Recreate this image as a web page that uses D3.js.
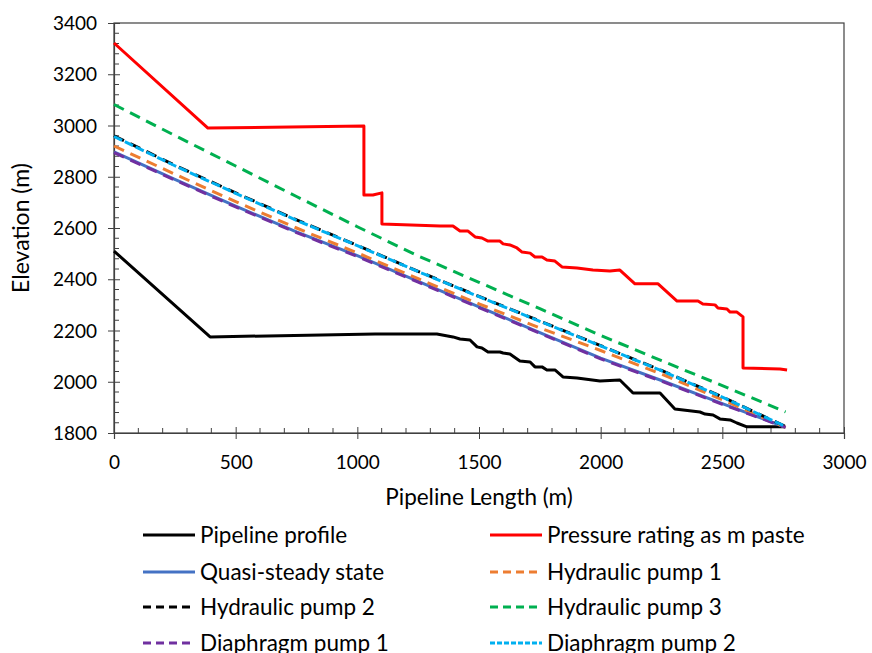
<!DOCTYPE html>
<html>
<head>
<meta charset="utf-8">
<script src="https://cdn.jsdelivr.net/npm/d3@7"></script>
<style>
  body { margin: 0; background: #fff; }
  svg { display: block; font-family: Lato, "Open Sans", sans-serif; }
</style>
</head>
<body>
<svg id="chart" width="872" height="653"></svg>
<script>
// pipeline profile (ground elevation)
const profileX = [0, 395, 1073, 1327, 1393, 1422, 1463, 1492, 1512, 1537, 1586, 1599, 1627, 1668, 1710, 1730, 1759, 1779, 1812, 1845, 1903, 1997, 2079, 2133, 2244, 2305, 2408, 2429, 2462, 2490, 2532, 2560, 2601, 2758];
const profileY = [2510, 2175, 2186, 2186, 2175, 2167, 2163, 2136, 2132, 2116, 2116, 2112, 2108, 2081, 2077, 2058, 2058, 2046, 2046, 2019, 2015, 2003, 2007, 1956, 1956, 1894, 1882, 1874, 1870, 1855, 1851, 1839, 1824, 1824];

// pressure rating expressed as metres of paste
const ratingX = [0, 386, 1027, 1027, 1064, 1101, 1101, 1340, 1393, 1422, 1455, 1484, 1512, 1537, 1586, 1599, 1627, 1656, 1677, 1710, 1730, 1759, 1779, 1812, 1841, 1903, 1968, 2038, 2079, 2141, 2236, 2314, 2400, 2420, 2470, 2482, 2519, 2532, 2560, 2585, 2585, 2737, 2766];
const ratingY = [3322, 2990, 2998, 2729, 2729, 2737, 2616, 2608, 2608, 2588, 2588, 2565, 2561, 2549, 2549, 2538, 2534, 2522, 2506, 2502, 2487, 2487, 2475, 2471, 2448, 2444, 2436, 2432, 2436, 2382, 2382, 2315, 2315, 2303, 2300, 2288, 2284, 2272, 2272, 2253, 2054, 2050, 2046];

// hydraulic grade lines, shared x positions
const pumpX = [0, 250, 500, 750, 1000, 1250, 1500, 1750, 2000, 2250, 2500, 2760];
const quasiSteady = [2897, 2790, 2685, 2585, 2492, 2392, 2292, 2192, 2092, 2005, 1915, 1822];
const hydraulic1 = [2920, 2810, 2703, 2600, 2503, 2402, 2304, 2210, 2122, 2030, 1930, 1822];
const hydraulic2 = [2960, 2845, 2737, 2632, 2532, 2431, 2333, 2237, 2141, 2044, 1941, 1825];
const hydraulic3 = [3082, 2961, 2842, 2723, 2605, 2491, 2388, 2285, 2181, 2082, 1985, 1882];
const diaphragm1 = [2894, 2787, 2682, 2582, 2489, 2389, 2289, 2189, 2089, 2002, 1912, 1822];
const diaphragm2 = [2957, 2843, 2735, 2630, 2531, 2430, 2332, 2236, 2140, 2043, 1940, 1825];

const xTicks = [0, 500, 1000, 1500, 2000, 2500, 3000];
const yTicks = [1800, 2000, 2200, 2400, 2600, 2800, 3000, 3200, 3400];

const zip = (xs, ys) => xs.map((x, i) => [x, ys[i]]);

const series = [
  { name: 'Pipeline profile', pts: zip(profileX, profileY), color: '#000000', dash: null },
  { name: 'Pressure rating as m paste', pts: zip(ratingX, ratingY), color: '#FF0000', dash: null },
  { name: 'Quasi-steady state', pts: zip(pumpX, quasiSteady), color: '#4472C4', dash: null },
  { name: 'Hydraulic pump 1', pts: zip(pumpX, hydraulic1), color: '#ED7D31', dash: '11,7' },
  { name: 'Hydraulic pump 2', pts: zip(pumpX, hydraulic2), color: '#000000', dash: '11,7' },
  { name: 'Hydraulic pump 3', pts: zip(pumpX, hydraulic3), color: '#00B050', dash: '11,7' },
  { name: 'Diaphragm pump 1', pts: zip(pumpX, diaphragm1), color: '#7030A0', dash: '11,7' },
  { name: 'Diaphragm pump 2', pts: zip(pumpX, diaphragm2), color: '#00B0F0', dash: '9,3' }
];

const svg = d3.select('#chart');
const plot = { left: 114, right: 844, top: 23, bottom: 433 };

const x = d3.scaleLinear().domain([0, 3000]).range([plot.left, plot.right]);
const y = d3.scaleLinear().domain([1800, 3400]).range([plot.bottom, plot.top]);

const axisColor = '#404040';

// plot area border
svg.append('rect')
  .attr('x', plot.left).attr('y', plot.top)
  .attr('width', plot.right - plot.left).attr('height', plot.bottom - plot.top)
  .attr('fill', 'none').attr('stroke', axisColor).attr('stroke-width', 1.2);

// minor ticks (inside)
const xMinor = d3.range(0, 3001, 100).filter(v => v % 500 !== 0);
svg.append('g').selectAll('line').data(xMinor).join('line')
  .attr('x1', d => x(d)).attr('x2', d => x(d))
  .attr('y1', plot.bottom).attr('y2', plot.bottom - 5)
  .attr('stroke', axisColor);
const yMinor = d3.range(1800, 3401, 40).filter(v => (v - 1800) % 200 !== 0);
svg.append('g').selectAll('line').data(yMinor).join('line')
  .attr('x1', plot.left).attr('x2', plot.left + 5)
  .attr('y1', d => y(d)).attr('y2', d => y(d))
  .attr('stroke', axisColor);

// major ticks cross the axis
const xAxis = svg.append('g')
  .attr('transform', `translate(0,${plot.bottom})`)
  .call(d3.axisBottom(x).tickValues(xTicks).tickSize(6).tickPadding(17).tickFormat(d3.format('d')));
xAxis.selectAll('.tick line').attr('y1', -6);
const yAxis = svg.append('g')
  .attr('transform', `translate(${plot.left},0)`)
  .call(d3.axisLeft(y).tickValues(yTicks).tickSize(6).tickPadding(11).tickFormat(d3.format('d')));
yAxis.selectAll('.tick line').attr('x1', 6);

[xAxis, yAxis].forEach(ax => {
  ax.select('.domain').attr('stroke', axisColor).attr('stroke-width', 1.2);
  ax.selectAll('.tick line').attr('stroke', axisColor);
  ax.selectAll('.tick text').attr('font-size', 19).attr('fill', '#000')
    .attr('font-family', 'Lato, sans-serif');
});
yAxis.selectAll('.tick text').attr('dy', '0.35em');

// axis titles
svg.append('text')
  .attr('x', (plot.left + plot.right) / 2).attr('y', 505)
  .attr('text-anchor', 'middle').attr('font-size', 22.5)
  .text('Pipeline Length (m)');
svg.append('text')
  .attr('transform', `translate(29,${(plot.top + plot.bottom) / 2}) rotate(-90)`)
  .attr('text-anchor', 'middle').attr('font-size', 23)
  .text('Elevation (m)');

// series lines
const line = d3.line().x(d => x(d[0])).y(d => y(d[1]));
svg.append('g').selectAll('path').data(series).join('path')
  .attr('d', d => line(d.pts))
  .attr('fill', 'none')
  .attr('stroke', d => d.color)
  .attr('stroke-width', 3)
  .attr('stroke-linejoin', 'round')
  .attr('stroke-dasharray', d => d.dash);

// legend: two columns, four rows
const legendRows = [535, 572, 607, 643];
const legendCols = [143, 490];
const legend = svg.append('g').selectAll('g').data(series).join('g')
  .attr('transform', (d, i) => `translate(${legendCols[i % 2]},${legendRows[Math.floor(i / 2)]})`);
legend.append('line')
  .attr('x1', 0).attr('x2', 52)
  .attr('stroke', d => d.color).attr('stroke-width', 3)
  .attr('stroke-dasharray', d => d.dash ? (d.dash === '9,3' ? '5,2' : '8,5') : null);
legend.append('text')
  .attr('x', 57).attr('dy', '0.35em')
  .attr('font-size', 22.5)
  .text(d => d.name);
</script>
</body>
</html>
